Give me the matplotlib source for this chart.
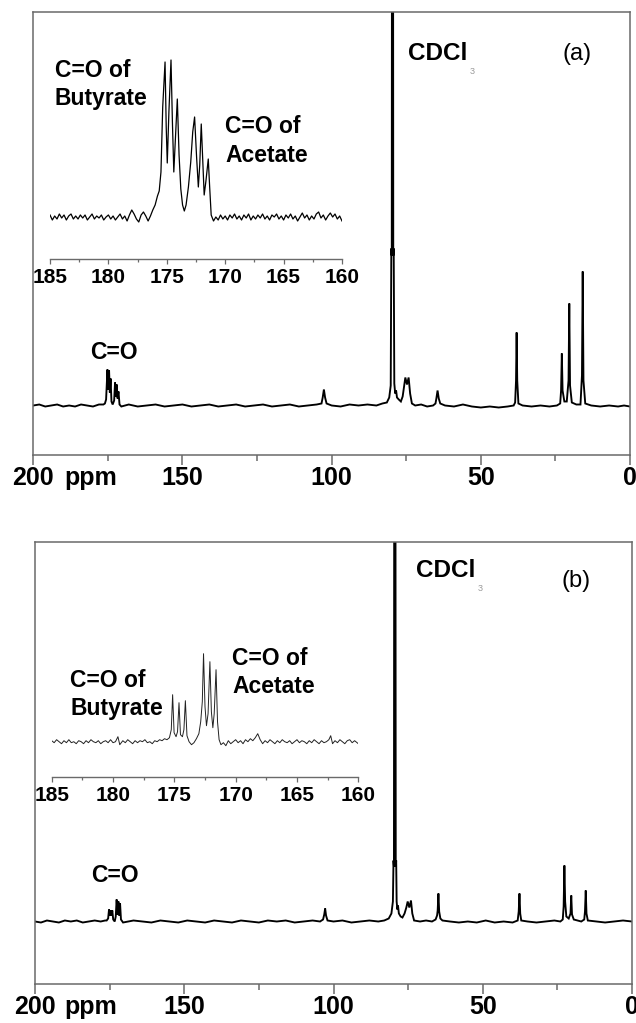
"""13C NMR spectra, panels (a) and (b), each with a carbonyl-region inset."""

import numpy as np
import matplotlib

matplotlib.use("Agg")
import matplotlib.pyplot as plt  # noqa: E402
import matplotlib.transforms as mtransforms  # noqa: E402
from matplotlib.ticker import MultipleLocator  # noqa: E402

plt.rcParams["font.family"] = ["Liberation Sans", "DejaVu Sans"]

W, H = 636, 1023

# (ppm, intensity), intensity in arbitrary units
SPEC_A = [
    (200.0, 0), (198.0, 1), (196.0, -1), (194.0, 0), (192.0, 1), (190.0, -1),
    (188.0, 0), (186.0, -1), (184.0, 1), (182.0, 0), (180.0, -1), (178.0, 1),
    (176.5, 1), (176.0, 2), (175.6, 6), (175.15, 36), (174.9, 16), (174.6, 35),
    (174.35, 13), (174.1, 27), (173.8, 4), (173.4, 1), (172.9, 5), (172.6, 23),
    (172.3, 9), (172.05, 21), (171.75, 7), (171.45, 14), (171.1, 1), (170.5, -1),
    (168.0, 1), (165.0, -1), (162.0, 0), (159.0, 1), (156.0, -1), (153.0, 0),
    (150.0, 1), (147.0, -1), (144.0, 0), (141.0, 1), (138.0, -1), (135.0, 0),
    (132.0, 1), (129.0, -1), (126.0, 0), (123.0, 1), (120.0, -1), (117.0, 0),
    (114.0, 1), (111.0, -1), (108.0, 0), (105.0, 1), (103.4, 2), (103.0, 8),
    (102.6, 16), (102.2, 8), (101.7, 2), (100.0, 0), (97.0, -1), (94.0, 1),
    (91.0, 0), (88.0, 1), (85.0, 0), (83.0, 2), (81.5, 3), (80.7, 8), (80.2, 20),
    (80.0, 157), (79.85, 150), (79.75, 700), (79.45, 700), (79.35, 150),
    (79.2, 157), (79.0, 22), (78.7, 12), (78.4, 15), (78.1, 8), (77.5, 6),
    (76.8, 4), (76.2, 9), (75.7, 20), (75.3, 28), (74.75, 21), (74.2, 28),
    (73.7, 12), (73.1, 2), (72.0, 0), (70.0, 1), (68.0, -1), (66.0, 0),
    (65.2, 2), (64.9, 7), (64.5, 15), (64.1, 7), (63.6, 2), (62.0, 0),
    (59.0, -1), (56.0, 1), (53.0, -1), (50.0, -2), (47.0, -1), (44.0, -2),
    (41.0, -1), (39.0, 0), (38.5, 3), (38.2, 25), (38.0, 73), (37.8, 25),
    (37.4, 2), (36.0, 0), (33.0, -1), (30.0, 0), (27.0, -1), (24.5, 0),
    (23.4, 2), (23.1, 15), (22.85, 52), (22.6, 15), (22.0, 4), (21.2, 4),
    (20.6, 25), (20.35, 102), (20.1, 20), (19.5, 3), (18.0, 1), (16.6, 1),
    (16.1, 30), (15.85, 134), (15.6, 25), (15.0, 2), (13.0, 0), (10.0, -1),
    (7.0, 0), (4.0, -1), (2.0, 0), (0.0, -1),
]

SPEC_B = [
    (200.0, 0), (198.0, -1), (196.0, 1), (194.0, 0), (192.0, -1), (190.0, 1),
    (188.0, 0), (186.0, 1), (184.0, -1), (182.0, 0), (180.0, 1), (178.0, 0),
    (176.5, 1), (176.0, 1), (175.5, 3), (175.2, 12), (174.9, 6), (174.6, 11),
    (174.35, 6), (174.1, 11), (173.8, 2), (173.3, 0), (172.95, 5), (172.65, 22),
    (172.35, 7), (172.05, 20), (171.8, 6), (171.5, 18), (171.2, 2), (170.5, -1),
    (167.0, 1), (164.0, 0), (161.0, -1), (158.0, 1), (155.0, 0), (152.0, -1),
    (149.0, 1), (146.0, 0), (143.0, -1), (140.0, 1), (137.0, 0), (134.0, -1),
    (131.0, 1), (128.0, 0), (125.0, -1), (122.0, 1), (119.0, 0), (116.0, 1),
    (113.0, -1), (110.0, 0), (107.0, 1), (104.5, 0), (103.5, 2), (103.1, 7),
    (102.8, 13), (102.5, 6), (102.0, 1), (100.0, 0), (97.0, 1), (94.0, -1),
    (91.0, 0), (88.0, 1), (85.0, 0), (83.0, 1), (81.5, 3), (80.6, 8),
    (80.1, 20), (79.9, 61), (79.75, 55), (79.6, 700), (79.3, 700), (79.15, 55),
    (79.0, 61), (78.85, 20), (78.6, 12), (78.4, 16), (78.1, 8), (77.5, 5),
    (76.9, 4), (76.2, 8), (75.6, 14), (75.15, 20), (74.6, 14), (74.05, 21),
    (73.6, 8), (73.0, 1), (71.0, 0), (69.0, 1), (67.0, 0), (65.8, 2),
    (65.3, 6), (65.1, 11), (64.85, 28), (64.6, 10), (64.2, 3), (63.5, 1),
    (61.0, 0), (58.0, -1), (55.0, 0), (52.0, -1), (49.0, 1), (46.0, -1),
    (43.0, 0), (40.0, -1), (38.3, 1), (37.95, 10), (37.7, 28), (37.45, 8),
    (37.1, 1), (35.0, 0), (32.0, -1), (29.0, 0), (26.0, 1), (24.0, 0),
    (23.2, 2), (22.9, 15), (22.65, 56), (22.4, 20), (22.0, 5), (21.2, 3),
    (20.6, 8), (20.35, 26), (20.1, 7), (19.5, 2), (17.0, 0), (16.0, 2),
    (15.75, 10), (15.5, 31), (15.25, 8), (14.8, 1), (12.0, 0), (9.0, -1),
    (6.0, 0), (3.0, 1), (0.0, 0),
]

INSET_A = [
    (185.0, 2), (184.8, -3), (184.6, 1), (184.4, -2), (184.2, 3), (184.0, -1),
    (183.8, 2), (183.6, -3), (183.4, 1), (183.2, 3), (183.0, -2), (182.8, 1),
    (182.6, -2), (182.4, 2), (182.2, -1), (182.0, 2), (181.8, -3), (181.6, 0),
    (181.4, 3), (181.2, -2), (181.0, 1), (180.8, -1), (180.6, 2), (180.4, -3),
    (180.2, 0), (180.0, 2), (179.8, -2), (179.6, 1), (179.4, -3), (179.2, 0),
    (179.0, 3), (178.8, -2), (178.6, 1), (178.4, -4), (178.2, 2), (178.0, 7),
    (177.8, 3), (177.6, -2), (177.4, -5), (177.2, 2), (177.0, 5), (176.8, 1),
    (176.6, -4), (176.4, 1), (176.2, 7), (176.0, 12), (175.8, 21), (175.65, 26),
    (175.5, 45), (175.35, 110), (175.15, 155), (175.05, 90), (174.96, 54),
    (174.82, 105), (174.64, 157), (174.52, 95), (174.4, 45), (174.26, 80),
    (174.1, 118), (173.95, 62), (173.8, 28), (173.65, 12), (173.5, 6),
    (173.35, 12), (173.15, 30), (172.95, 55), (172.78, 85), (172.62, 100),
    (172.45, 60), (172.3, 30), (172.18, 52), (172.05, 93), (171.93, 58),
    (171.8, 22), (171.65, 36), (171.45, 58), (171.33, 30), (171.2, 2),
    (171.0, -4), (170.8, 0), (170.6, -3), (170.4, 2), (170.2, -2), (170.0, 1),
    (169.8, -3), (169.6, 2), (169.4, -1), (169.2, 3), (169.0, -2), (168.8, 1),
    (168.6, -3), (168.4, 2), (168.2, -1), (168.0, 3), (167.8, -3), (167.6, 1),
    (167.4, -2), (167.2, 2), (167.0, -1), (166.8, 3), (166.6, -2), (166.4, 1),
    (166.2, -3), (166.0, 2), (165.8, 0), (165.6, 3), (165.4, -2), (165.2, 1),
    (165.0, -3), (164.8, 2), (164.6, -1), (164.4, 3), (164.2, -2), (164.0, 1),
    (163.8, -4), (163.6, 0), (163.4, 4), (163.2, -1), (163.0, 2), (162.8, -3),
    (162.6, 1), (162.4, -2), (162.2, 3), (162.0, 5), (161.8, -1), (161.6, 2),
    (161.4, -3), (161.2, 1), (161.0, 4), (160.8, 0), (160.6, 3), (160.4, -2),
    (160.2, 1), (160.0, -4),
]

INSET_B = [
    (185.0, 1), (184.8, -1), (184.6, 2), (184.4, 0), (184.2, -2), (184.0, 1),
    (183.8, -1), (183.6, 2), (183.4, -1), (183.2, 0), (183.0, -2), (182.8, 1),
    (182.6, 0), (182.4, -2), (182.2, 1), (182.0, -1), (181.8, 2), (181.6, 0),
    (181.4, -1), (181.2, 1), (181.0, -2), (180.8, 0), (180.6, 1), (180.4, -1),
    (180.2, 2), (180.0, -1), (179.8, 0), (179.6, 5), (179.45, -3), (179.2, 1),
    (179.0, -1), (178.8, 2), (178.6, 0), (178.4, -2), (178.2, 1), (178.0, -1),
    (177.8, 1), (177.6, 0), (177.4, 2), (177.2, -1), (177.0, 0), (176.8, -2),
    (176.6, 1), (176.4, 0), (176.2, 2), (176.0, 1), (175.8, 3), (175.6, 2),
    (175.4, 4), (175.25, 12), (175.14, 47), (175.02, 9), (174.86, 5),
    (174.74, 10), (174.62, 39), (174.5, 7), (174.34, 5), (174.22, 12),
    (174.1, 41), (173.97, 6), (173.8, 0), (173.6, -3), (173.4, -1), (173.2, 3),
    (173.0, 8), (172.85, 20), (172.72, 40), (172.62, 88), (172.5, 35),
    (172.38, 16), (172.25, 28), (172.1, 80), (171.98, 30), (171.86, 14),
    (171.75, 28), (171.6, 72), (171.48, 20), (171.35, 2), (171.2, -3),
    (171.0, -1), (170.8, -4), (170.6, 1), (170.4, -2), (170.2, 0), (170.0, 2),
    (169.8, -1), (169.6, 1), (169.4, -2), (169.2, 2), (169.0, 0), (168.8, 3),
    (168.6, 1), (168.4, 4), (168.2, 8), (168.0, 2), (167.8, -2), (167.6, 1),
    (167.4, -1), (167.2, 2), (167.0, 0), (166.8, -2), (166.6, 1), (166.4, -1),
    (166.2, 2), (166.0, 0), (165.8, -1), (165.6, 1), (165.4, -2), (165.2, 0),
    (165.0, 2), (164.8, -1), (164.6, 1), (164.4, 0), (164.2, -2), (164.0, 1),
    (163.8, -1), (163.6, 2), (163.4, 0), (163.2, -2), (163.0, 1), (162.8, -1),
    (162.6, 0), (162.4, 2), (162.25, 6), (162.1, -2), (161.9, 1), (161.7, -1),
    (161.5, 2), (161.3, 0), (161.1, -2), (160.9, 1), (160.7, 2), (160.5, -1),
    (160.3, 1), (160.0, -2),
]

MAIN_TICKS = [200, 150, 100, 50, 0]
INSET_TICKS = [185, 180, 175, 170, 165, 160]

SPINE = "#6a6a6a"


def px_rect(left, top, right, bottom):
    return [left / W, 1 - bottom / H, (right - left) / W, (bottom - top) / H]


def ftext(fig, x, y, s, **kw):
    kw.setdefault("fontweight", "bold")
    kw.setdefault("fontsize", 16.5)
    kw.setdefault("va", "baseline")
    return fig.text(x / W, 1 - y / H, s, **kw)


def draw_panel(fig, spec, inset, p):
    ax = fig.add_axes(px_rect(*p["main"]))
    ppm, inten = np.array(spec, dtype=float).T
    ax.plot(ppm, inten, color="black", lw=1.35, solid_joinstyle="miter")
    ax.set_xlim(200, 0)
    ax.set_ylim(*p["ylim"])
    ax.set_yticks([])
    ax.set_xticks(MAIN_TICKS)
    ax.set_xticklabels([str(t) for t in MAIN_TICKS], fontweight="bold")
    ax.xaxis.set_minor_locator(MultipleLocator(25))
    ax.tick_params(axis="x", which="major", length=7, width=1.1, color=SPINE,
                   direction="out", pad=1, labelsize=18)
    ax.tick_params(axis="x", which="minor", length=4.5, width=1.1, color=SPINE,
                   direction="out")
    for sp in ax.spines.values():
        sp.set_color(SPINE)
        sp.set_linewidth(1.1)
    # "ppm" follows the 200 label
    trans = ax.get_xaxis_transform() + mtransforms.ScaledTranslation(
        (p["ppm_x"] - p["main"][0]) / 100, -8 / 72, fig.dpi_scale_trans)
    ax.text(200, 0, "ppm", transform=trans, ha="left", va="top",
            fontsize=18, fontweight="bold")

    ins = fig.add_axes(px_rect(*p["inset"]))
    ppm, inten = np.array(inset, dtype=float).T
    ins.plot(ppm, inten, color=p["inset_color"], lw=p["inset_lw"])
    ins.set_xlim(185, 160)
    ins.set_ylim(*p["inset_ylim"])
    ins.patch.set_visible(False)
    ins.set_yticks([])
    for side in ("top", "left", "right"):
        ins.spines[side].set_visible(False)
    ins.spines["bottom"].set_color(SPINE)
    ins.spines["bottom"].set_linewidth(1.0)
    ins.set_xticks(INSET_TICKS)
    ins.set_xticklabels([str(t) for t in INSET_TICKS], fontweight="bold")
    ins.xaxis.set_minor_locator(MultipleLocator(2.5))
    ins.tick_params(axis="x", which="major", length=3.5, width=0.9, color=SPINE,
                    direction="out", pad=3.5, labelsize=15)
    ins.tick_params(axis="x", which="minor", length=2.5, width=0.9, color=SPINE,
                    direction="out")

    for x, y, s in p["labels"]:
        ftext(fig, x, y, s)
    ftext(fig, p["co"][0], p["co"][1], "C=O", ha="center")
    cdcl = ftext(fig, p["cdcl"][0], p["cdcl"][1], "CDCl", fontsize=17.5)
    ax.annotate("3", xy=(1, 0), xycoords=cdcl, xytext=(1.5, -1.5),
                textcoords="offset points", ha="left", va="top",
                fontsize=6.5, color="#9a9a9a", annotation_clip=False)
    ftext(fig, p["tag"][0], p["tag"][1], p["tag"][2], fontsize=17,
          fontweight="normal", ha="center")


fig = plt.figure(figsize=(W / 100, H / 100), dpi=100)

draw_panel(fig, SPEC_A, INSET_A, {
    "main": (33.3, 11.7, 630, 454.5),
    "ylim": (-49, 393.8),
    "ppm_x": 64,
    "inset": (50, 50, 342, 258.5),
    "inset_ylim": (-41.5, 167),
    "inset_color": "black",
    "inset_lw": 0.9,
    "labels": [(55, 77, "C=O of"), (55, 105, "Butyrate"),
               (225, 133, "C=O of"), (225, 162, "Acetate")],
    "co": (114, 359),
    "cdcl": (408, 60),
    "tag": (577, 60, "(a)"),
})

draw_panel(fig, SPEC_B, INSET_B, {
    "main": (35, 541.7, 632, 984),
    "ylim": (-62.5, 379.8),
    "ppm_x": 64,
    "inset": (51.7, 645, 358.3, 776.7),
    "inset_ylim": (-35, 96.7),
    "inset_color": "#222222",
    "inset_lw": 0.7,
    "labels": [(70, 687, "C=O of"), (70, 715, "Butyrate"),
               (232, 665, "C=O of"), (232, 693, "Acetate")],
    "co": (115, 882),
    "cdcl": (416, 577),
    "tag": (576, 587, "(b)"),
})

fig.savefig("out.png", dpi=100)
